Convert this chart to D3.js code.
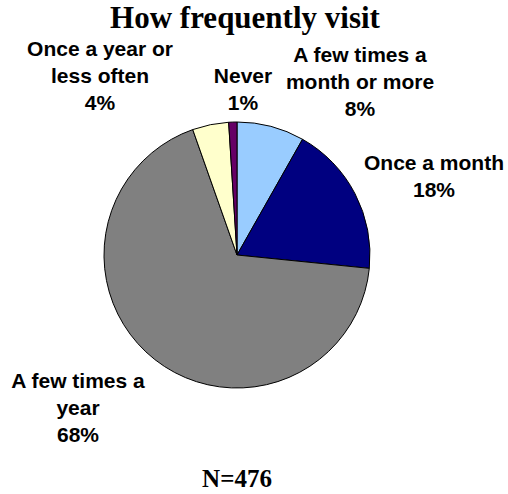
<!DOCTYPE html>
<html lang="en">
<head>
    <meta charset="UTF-8">
    <title>How frequently visit</title>
    <script src="https://d3js.org/d3.v7.min.js"></script>
    <style>
        body { margin: 0; background: #fff; }
        svg { display: block; }
        .title { font-family: "Liberation Serif", "Times New Roman", serif; font-weight: bold; }
        .lbl { font-family: "Liberation Sans", Arial, sans-serif; font-weight: bold; font-size: 21px; }
    </style>
</head>
<body>
    <svg id="chart" width="508" height="494"></svg>
    <script>
        // slices clockwise from 12 o'clock
        const categories = ["A few times a month or more", "Once a month", "A few times a year", "Once a year or less often", "Never"];
        const labelLines = [
            ["A few times a", "month or more"],
            ["Once a month"],
            ["A few times a", "year"],
            ["Once a year or", "less often"],
            ["Never"]
        ];
        const shares = [8.2, 18.4, 68.0, 4.4, 1.0];
        const colors = ["#99CCFF", "#000080", "#808080", "#FFFFCC", "#660066"];

        // where each label's first line sits (layout only)
        const labelPos = [[360, 62], [434, 170], [78, 388], [100, 56], [243, 83]];

        const svg = d3.select("#chart");
        const cx = 237, cy = 255, radius = 133;
        const lineH = 27;

        svg.append("text")
            .attr("class", "title")
            .attr("x", 245)
            .attr("y", 28)
            .attr("text-anchor", "middle")
            .style("font-size", "31px")
            .text("How frequently visit");

        const data = categories.map((c, i) => ({ name: c, value: shares[i], i: i }));

        const pie = d3.pie().sort(null).value(d => d.value);
        const arc = d3.arc().innerRadius(0).outerRadius(radius);

        const g = svg.append("g").attr("transform", `translate(${cx},${cy})`);
        g.selectAll("path")
            .data(pie(data))
            .enter().append("path")
            .attr("d", arc)
            .attr("fill", d => colors[d.data.i])
            .attr("stroke", "#000")
            .attr("stroke-width", 1);

        const labels = svg.selectAll(".lbl")
            .data(data)
            .enter().append("text")
            .attr("class", "lbl")
            .attr("text-anchor", "middle")
            .attr("transform", d => `translate(${labelPos[d.i][0]},${labelPos[d.i][1]})`);

        labels.each(function (d) {
            const t = d3.select(this);
            const lines = labelLines[d.i].concat([Math.round(d.value) + "%"]);
            lines.forEach((s, k) => {
                t.append("tspan").attr("x", 0).attr("y", k * lineH).text(s);
            });
        });

        svg.append("text")
            .attr("class", "title")
            .attr("x", 237)
            .attr("y", 487)
            .attr("text-anchor", "middle")
            .style("font-size", "25px")
            .text("N=476");
    </script>
</body>
</html>
